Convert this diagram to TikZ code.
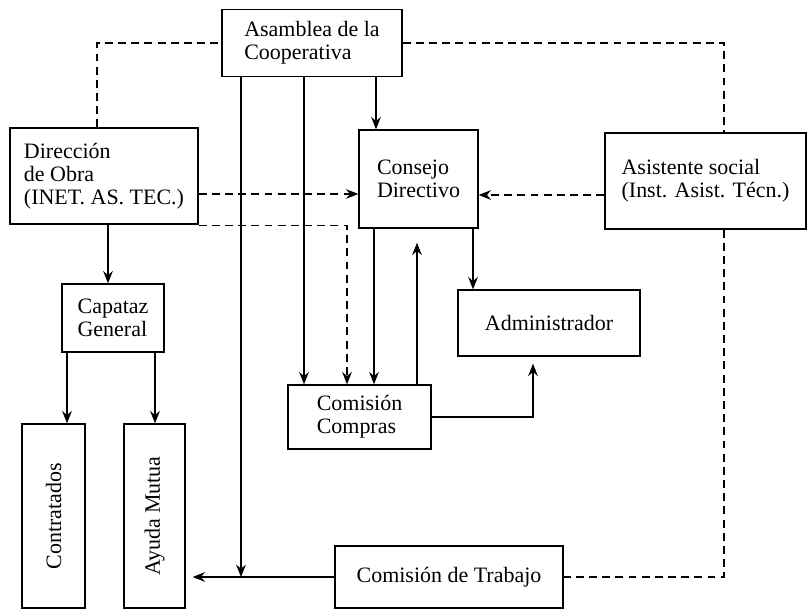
\documentclass[tikz,border=0pt]{standalone}
\usepackage{fontspec}
\setmainfont{Liberation Serif}
\usetikzlibrary{arrows.meta}

\begin{document}
\begin{tikzpicture}[
	box/.style={draw, line width=0.75pt, align=left, inner sep=2pt, font=\fontsize{12.5}{13}\selectfont},
	arr/.style={line width=0.8pt, -{Stealth[length=7pt,width=5.5pt]}},
	dline/.style={line width=0.7pt, dash pattern=on 4.5pt off 3pt},
	darr/.style={dline, -{Stealth[length=7pt,width=5.5pt]}}]
	\useasboundingbox (0,0) rectangle (16.14,-12.22);
	%\draw[step=1cm ,color=gray] (0,-12) grid (16,0);
			% boxes
			\node[box, minimum width=3.6cm, minimum height=1.34cm] (asam) at (6.24,-0.86) {Asamblea de la\\Cooperativa};
			\node[box, minimum width=3.76cm, minimum height=1.92cm] (dir) at (2.08,-3.52) {Dirección\\de Obra\\(INET. AS. TEC.)};
			\node[box, minimum width=2.38cm, minimum height=1.96cm] (cons) at (8.37,-3.58) {Consejo\\Directivo};
			\node[box, minimum width=4.02cm, minimum height=1.92cm] (asist) at (14.11,-3.62) {Asistente social\\(Inst. Asist. Técn.)};
			\node[box, minimum width=2.04cm, minimum height=1.36cm] (cap) at (2.26,-6.36) {Capataz\\General};
			\node[box, minimum width=3.64cm, minimum height=1.32cm] (admin) at (10.98,-6.46) {Administrador};
			\node[box, minimum width=2.86cm, minimum height=1.28cm] (comp) at (7.19,-8.34) {Comisión\\Compras};
			\node[box, minimum width=1.26cm, minimum height=3.68cm] (contr) at (1.07,-10.32) {\rotatebox{90}{Contratados}};
			\node[box, minimum width=1.22cm, minimum height=3.68cm] (ayuda) at (3.09,-10.32) {\rotatebox{90}{Ayuda Mutua}};
			\node[box, minimum width=4.56cm, minimum height=1.24cm] (trab) at (8.98,-11.54) {Comisión de Trabajo};
			% solid lines
			\coordinate (a1) at ([xshift=-1.42cm]asam.south);
			\coordinate (a2) at ([xshift=-0.16cm]asam.south);
			\coordinate (a3) at ([xshift=1.28cm]asam.south);
			\draw[arr] (a1) -- (a1 |- trab.west);
			\draw[arr, shorten >=4pt] (trab.west) -- (trab.west -| ayuda.east);
			\draw[arr] (a2) -- (a2 |- comp.north);
			\draw[arr] (a3) -- (a3 |- cons.north);
			\coordinate (d1) at ([xshift=0.08cm]dir.south);
			\draw[arr] (d1) -- (d1 |- cap.north);
			\coordinate (c1) at ([xshift=-0.92cm]cap.south);
			\coordinate (c2) at ([xshift=0.84cm]cap.south);
			\draw[arr] (c1) -- (c1 |- contr.north);
			\draw[arr] (c2) -- (c2 |- ayuda.north);
			\coordinate (k1) at ([xshift=-0.89cm]cons.south);
			\coordinate (k2) at ([xshift=1.09cm]cons.south);
			\coordinate (m1) at ([xshift=1.15cm]comp.north);
			\draw[arr] (k1) -- (k1 |- comp.north);
			\draw[arr, shorten >=8pt] (m1) -- (m1 |- cons.south);
			\draw[arr] (k2) -- (k2 |- admin.north);
			\draw[arr, shorten >=4pt] (comp.east) -| ([xshift=-0.32cm]admin.south);
			% dashed lines
			\coordinate (d2) at ([yshift=-0.36cm]dir.east);
			\coordinate (s1) at ([yshift=-0.28cm]asist.west);
			\draw[darr] (d2) -- (d2 -| cons.west);
			\draw[darr] (s1) -- (s1 -| cons.east);
			\draw[darr] ([yshift=-0.4pt]dir.south east) -| ([xshift=-0.25cm]comp.north);
			\draw[dline] ([xshift=-0.14cm]dir.north) |- (asam.west);
			\draw[dline] (asam.east) -| ([xshift=0.37cm]asist.north);
			\draw[dline] ([xshift=0.37cm]asist.south) |- (trab.east);
	\end{tikzpicture}
\end{document}
